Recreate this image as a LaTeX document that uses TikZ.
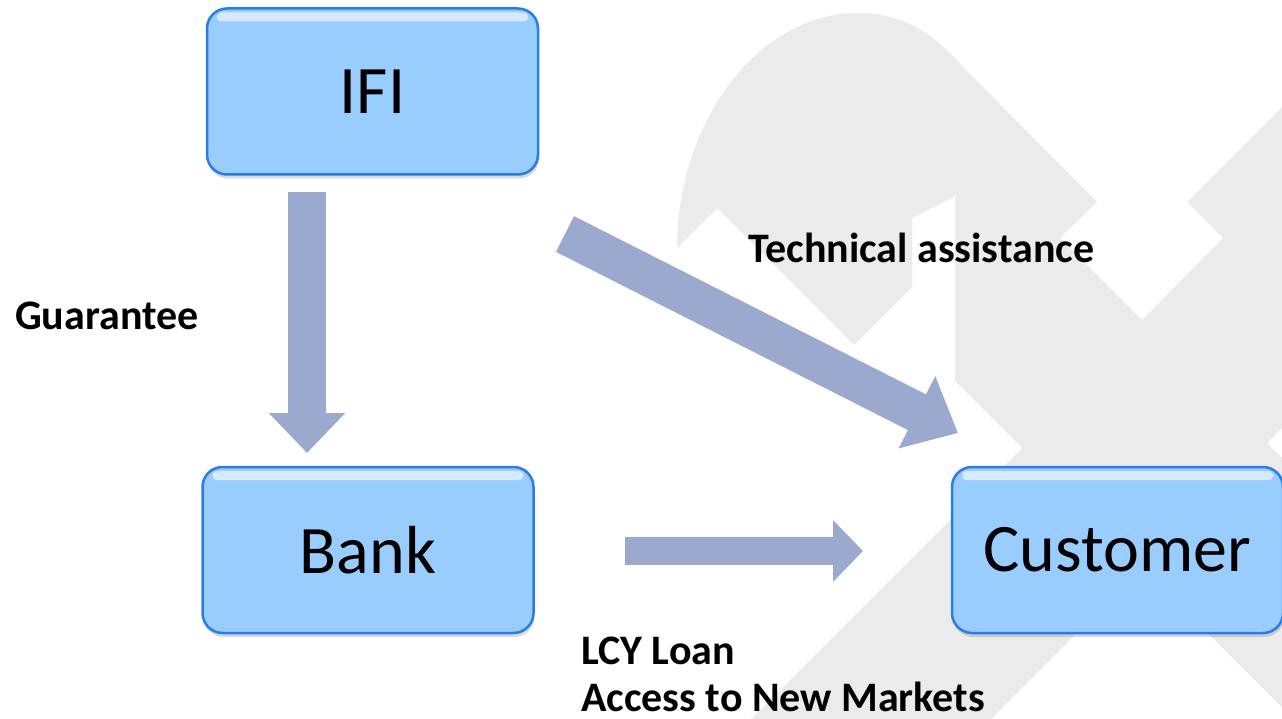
\documentclass[tikz,border=0pt]{standalone}
\usepackage{fontspec}
\setmainfont{Carlito}
\usetikzlibrary{arrows.meta,shadows}

\definecolor{boxblue}{RGB}{153,204,255}
\definecolor{boxedge}{RGB}{40,125,232}
\definecolor{flowblue}{RGB}{156,169,206}
\definecolor{markgray}{RGB}{235,235,235}

\begin{document}
\begin{tikzpicture}[x=1pt,y=-1pt]
	\tikzset{box/.style={rounded corners=20pt, draw=boxedge, line width=2.5pt, fill=boxblue,
			minimum width=331pt, minimum height=166pt, inner sep=0pt,
			font=\fontsize{68}{80}\selectfont,
			drop shadow={shadow xshift=1pt, shadow yshift=-4pt, opacity=0.3},
			path picture={\fill[white, opacity=0.6, rounded corners=4pt]
				([xshift=10pt,yshift=-4pt]path picture bounding box.north west) rectangle
				([xshift=-10pt,yshift=-13pt]path picture bounding box.north east);}}};
	\tikzset{lbl/.style={anchor=base west, inner sep=0pt, font=\fontsize{42}{50}\selectfont\bfseries}};
	\tikzset{flow/.style={draw=flowblue}};

	\useasboundingbox (0,0) rectangle (1282,719);

	% faint logo in the back
	\fill[markgray] (677,248) .. controls (677,120) and (760,13) .. (857,13)
		.. controls (905,13) and (935,35) .. (962,66) -- (1097,202) -- (1060,238)
		-- (1142,320) -- (1223,238) -- (1187,202) -- (1282,107) -- (1282,428)
		-- (1267,443) -- (1282,458) -- (1282,707) -- (1142,568) -- (991,719)
		-- (751,719) -- (1022,448) -- (955,381) -- (955,196) -- (912,218)
		-- (912,287) -- (854,345) -- (717,208) -- cycle;

	\node[box] (ifi) at (372.5,91.5) {IFI};
	\node[box] (bank) at (368,550) {Bank};
	\node[box] (cust) at (1117.5,550) {Customer};

	\coordinate (g1) at (307,192);
	\coordinate (g2) at (307,453);
	\coordinate (t1) at (565,234);
	\coordinate (t2) at (958,433);
	\coordinate (l1) at (625,551);
	\coordinate (l2) at (863,551);

	\draw[flow, line width=38pt, -{Triangle[length=40pt,width=74pt]}] (g1) -- (g2);
	\draw[flow, line width=40pt, -{Triangle[length=46pt,width=78pt]}] (t1) -- (t2);
	\draw[flow, line width=28pt, -{Triangle[length=30pt,width=60pt]}] (l1) -- (l2);

	\node[lbl] (guar) at (15,330) {Guarantee};
	\node[lbl] (tech) at (748,263) {Technical assistance};
	\node[lbl] (loan) at (581,664) {LCY Loan};
	\node[lbl] (mkts) at (581,711) {Access to New Markets};
\end{tikzpicture}
\end{document}
